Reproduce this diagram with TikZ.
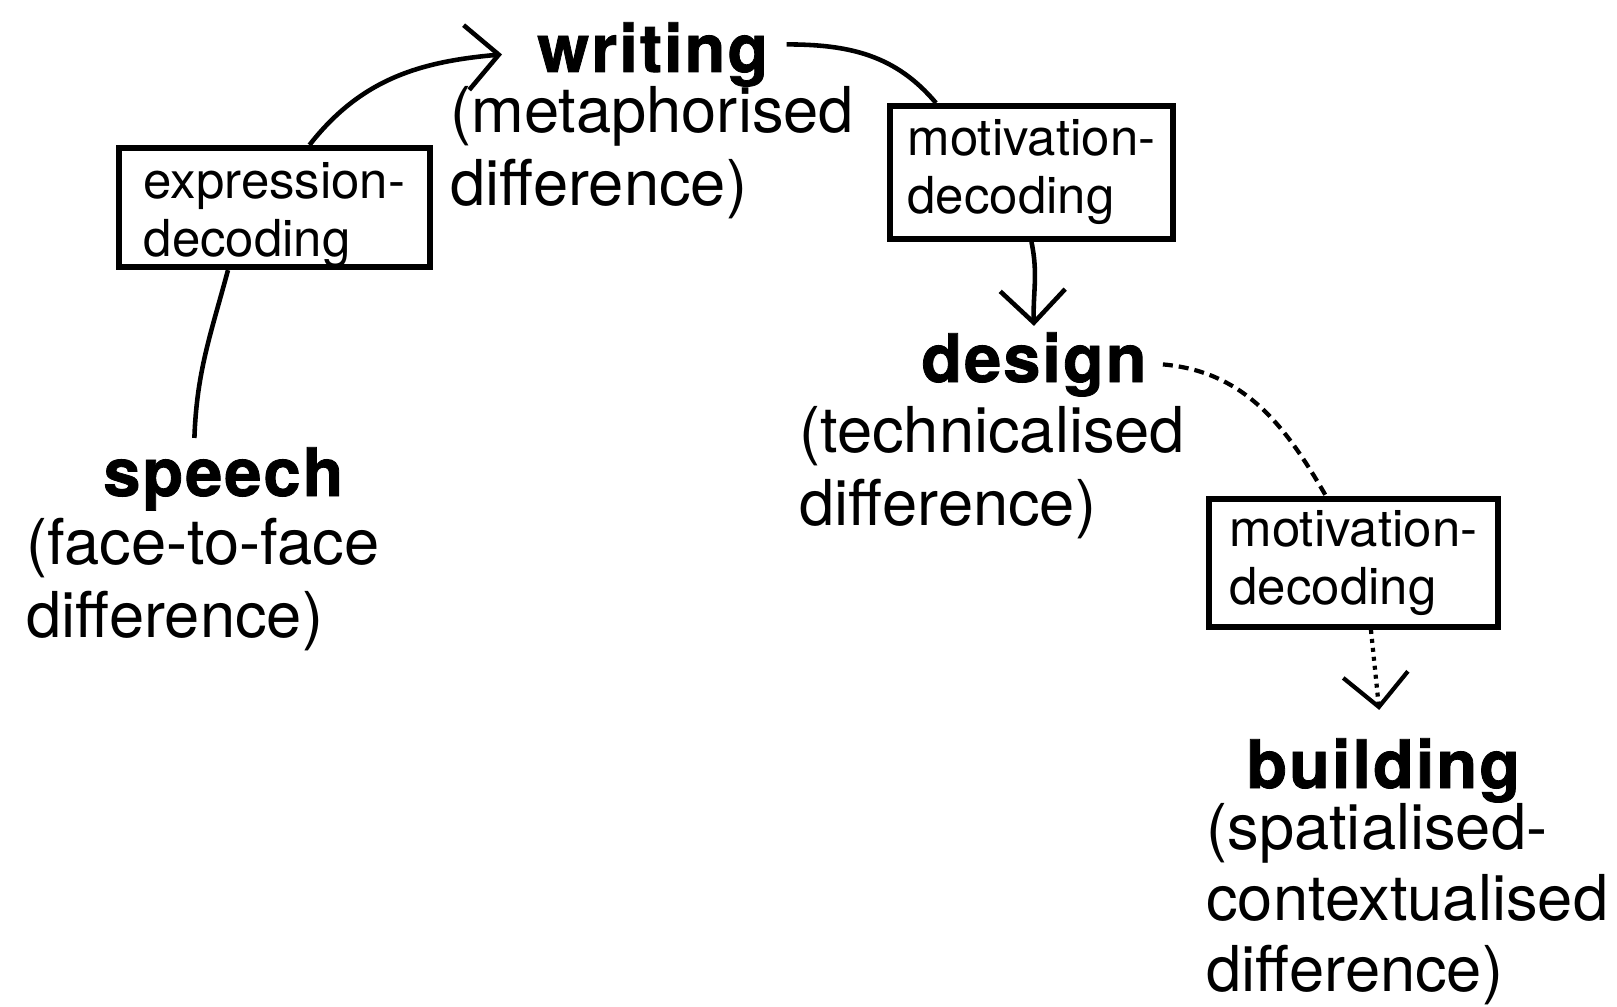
\documentclass[tikz,border=0pt]{standalone}
\usepackage{fontspec}
\setmainfont{TeX Gyre Heros}
\newfontfamily\cstheavy{TeX Gyre Heros}[BoldFeatures={FakeBold=1.2},LetterSpace=3]
\usepackage{tikz}
\usetikzlibrary{
	arrows.meta,
	positioning
}
\tikzset{
  % arrow
	cstra/.style      ={-{Straight Barb[length=0.65cm,width=1.3cm]}}, % right arrow
  % curve
	cstcurve/.style   ={line width=2.6pt}, %一般曲线
	cstdash/.style    ={line width=2.4pt, dash pattern=on 0.2cm off 0.12cm}, %虚线
	cstdots/.style    ={line width=2.4pt, dash pattern=on 0.08cm off 0.1cm}, %点线
  % node
	cstword/.style    ={inner sep=0, anchor=base west, font=\cstheavy\bfseries\fontsize{38}{44}\selectfont},
	cstdesc/.style    ={inner sep=0, anchor=north west, align=left, font=\fontsize{36}{41.5}\selectfont},
	cstbox/.style     ={draw, line width=3.4pt, anchor=north west, align=left, inner sep=0, font=\fontsize{29}{33}\selectfont}
}
\newcommand{\cstlift}{\rule{0pt}{28.5pt}}
\begin{document}
\begin{tikzpicture}[x=0.02cm,y=-0.02cm]
				\useasboundingbox (0,0) rectangle (1617,1007);
				% words
				\node[cstword] (speech) at (103,496) {speech};
				\node[cstword] (writing) at (537,72) {writing};
				\node[cstword] (design) at (921,382) {design};
				\node[cstword] (building) at (1246,788) {building};
				\node[cstdesc] (speechd) at (26,518) {(face-to-face\\difference)};
				\node[cstdesc] (writingd) at (450,86) {(metaphorised\\difference)};
				\node[cstdesc] (designd) at (799,406) {(technicalised\\difference)};
				\node[cstdesc,font=\fontsize{36}{40.5}\selectfont] (buildingd) at (1206,803) {(spatialised-\\contextualised\\difference)};
				% boxes
				\node[cstbox,minimum width=6.22cm,minimum height=2.34cm] (expr) at (116,145) {\cstlift expression-\\decoding};
				\node[cstbox,minimum width=5.66cm,minimum height=2.66cm] (motiva) at (887,103) {motivation-\\decoding};
				\node[cstbox,minimum width=5.78cm,minimum height=2.56cm] (motivb) at (1206,496) {motivation-\\decoding};
				% connectors
				\draw[cstcurve] ([xshift=-0.58cm,yshift=0.18cm]speech.north) to[out=88,in=-105] ([xshift=-0.93cm]expr.south);
				\draw[cstcurve,cstra] ([xshift=0.7cm]expr.north) to[out=52,in=185] ([xshift=-0.7cm]writing.west);
				\draw[cstcurve] ([xshift=0.36cm,yshift=0.2cm]writing.east) to[out=0,in=130] ([xshift=0.98cm]motiva.north west);
				\draw[cstcurve,cstra] (motiva.south) to[out=-78,in=92] ([yshift=0.12cm]design.north);
				\draw[cstdash] ([xshift=0.32cm]design.east) to[out=-5,in=120] ([xshift=2.4cm]motivb.north west);
				\draw[cstdots,cstra] ([xshift=0.35cm]motivb.south) -- ([xshift=-0.08cm,yshift=0.56cm]building.north);
			\end{tikzpicture}
\end{document}
